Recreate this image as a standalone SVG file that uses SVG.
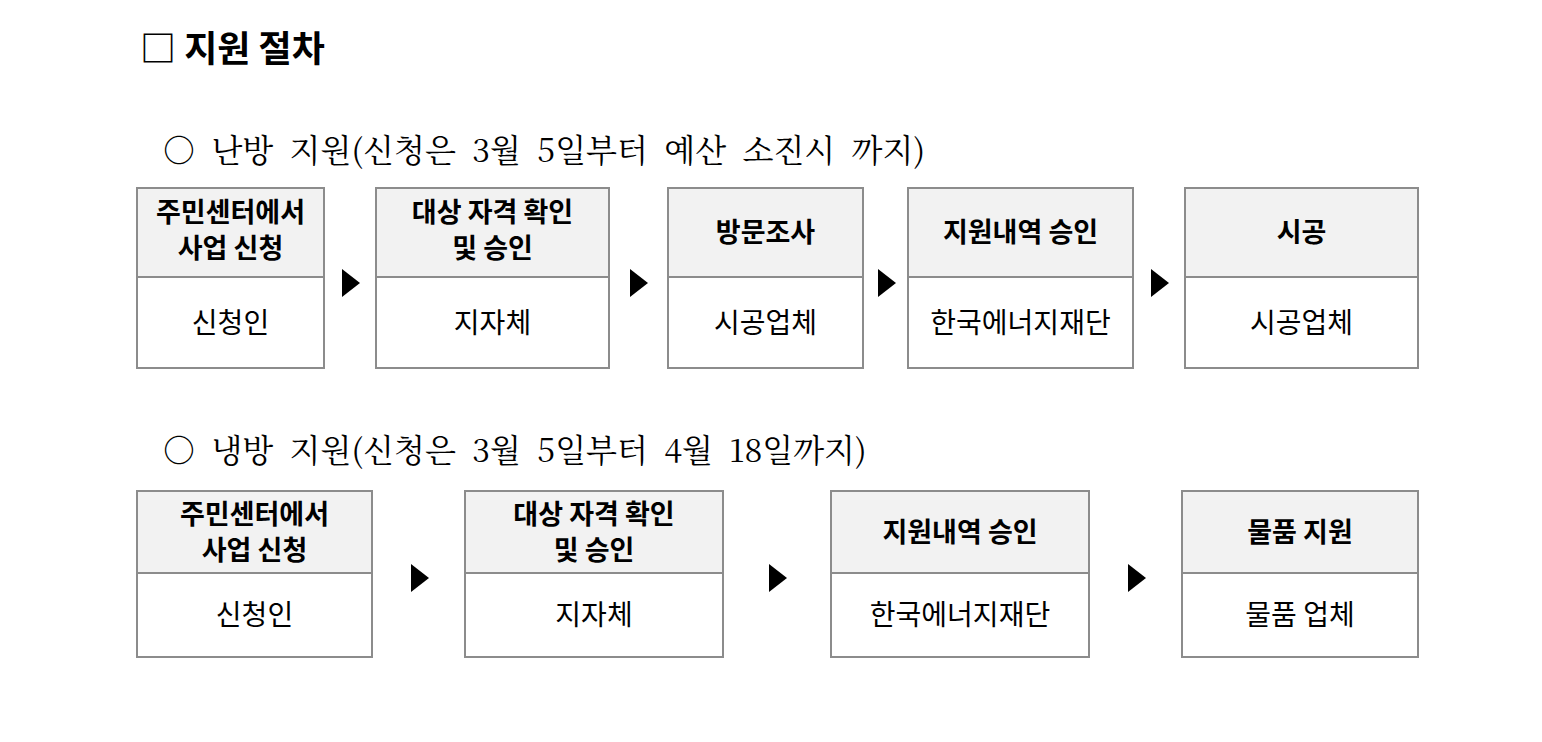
<svg xmlns="http://www.w3.org/2000/svg" width="1542" height="742" viewBox="0 0 1542 742">
<style>
.h{fill:#f2f2f2;stroke:#8c8c8c;stroke-width:2}
.b{fill:#fff;stroke:#8c8c8c;stroke-width:2}
.ht{font-family:"Noto Sans CJK KR",sans-serif;font-weight:bold;font-size:27px;text-anchor:middle;fill:#000}
.bt{font-family:"Noto Sans CJK KR",sans-serif;font-size:28px;text-anchor:middle;fill:#000}
.sec{font-family:"Noto Serif CJK KR","Liberation Serif","Noto Sans CJK KR",serif;font-size:32px;fill:#000}
.ti{font-family:"Noto Sans CJK KR",sans-serif;font-weight:bold;font-size:36px;fill:#000}
</style>
<rect width="1542" height="742" fill="#fff"/>
<text class="ti" x="140" y="62" xml:space="preserve">□ 지원 절차</text>
<text class="sec" x="163" y="162" xml:space="preserve">○  난방  지원(신청은  3월  5일부터  예산  소진시  까지)</text>
<text class="sec" x="163" y="462" xml:space="preserve">○  냉방  지원(신청은  3월  5일부터  4월  18일까지)</text>
<g id="connectors" fill="#000">
<polygon points="342,269 360,283 342,297"/>
<polygon points="630,269 648,283 630,297"/>
<polygon points="878,269 896,283 878,297"/>
<polygon points="1151,269 1169,283 1151,297"/>
<polygon points="411,564 429,578 411,592"/>
<polygon points="769,564 787,578 769,592"/>
<polygon points="1128,564 1146,578 1128,592"/>
</g>
<g id="n1"><rect class="h" x="137" y="188" width="187" height="89"/><rect class="b" x="137" y="277" width="187" height="91"/>
<text class="ht" x="230.5" y="222">주민센터에서</text><text class="ht" x="230.5" y="258">사업 신청</text><text class="bt" x="230.5" y="333">신청인</text></g>
<g id="n2"><rect class="h" x="376" y="188" width="233" height="89"/><rect class="b" x="376" y="277" width="233" height="91"/>
<text class="ht" x="492.5" y="222">대상 자격 확인</text><text class="ht" x="492.5" y="258">및 승인</text><text class="bt" x="492.5" y="333">지자체</text></g>
<g id="n3"><rect class="h" x="668" y="188" width="195" height="89"/><rect class="b" x="668" y="277" width="195" height="91"/>
<text class="ht" x="765.5" y="242">방문조사</text><text class="bt" x="765.5" y="333">시공업체</text></g>
<g id="n4"><rect class="h" x="908" y="188" width="225" height="89"/><rect class="b" x="908" y="277" width="225" height="91"/>
<text class="ht" x="1020.5" y="242">지원내역 승인</text><text class="bt" x="1020.5" y="333">한국에너지재단</text></g>
<g id="n5"><rect class="h" x="1185" y="188" width="233" height="89"/><rect class="b" x="1185" y="277" width="233" height="91"/>
<text class="ht" x="1301.5" y="242">시공</text><text class="bt" x="1301.5" y="333">시공업체</text></g>
<g id="m1"><rect class="h" x="137" y="491" width="235" height="82"/><rect class="b" x="137" y="573" width="235" height="84"/>
<text class="ht" x="254.5" y="524">주민센터에서</text><text class="ht" x="254.5" y="560">사업 신청</text><text class="bt" x="254.5" y="625">신청인</text></g>
<g id="m2"><rect class="h" x="465" y="491" width="258" height="82"/><rect class="b" x="465" y="573" width="258" height="84"/>
<text class="ht" x="594" y="524">대상 자격 확인</text><text class="ht" x="594" y="560">및 승인</text><text class="bt" x="594" y="625">지자체</text></g>
<g id="m3"><rect class="h" x="831" y="491" width="258" height="82"/><rect class="b" x="831" y="573" width="258" height="84"/>
<text class="ht" x="960" y="542">지원내역 승인</text><text class="bt" x="960" y="625">한국에너지재단</text></g>
<g id="m4"><rect class="h" x="1182" y="491" width="236" height="82"/><rect class="b" x="1182" y="573" width="236" height="84"/>
<text class="ht" x="1300" y="542">물품 지원</text><text class="bt" x="1300" y="625">물품 업체</text></g>
</svg>
